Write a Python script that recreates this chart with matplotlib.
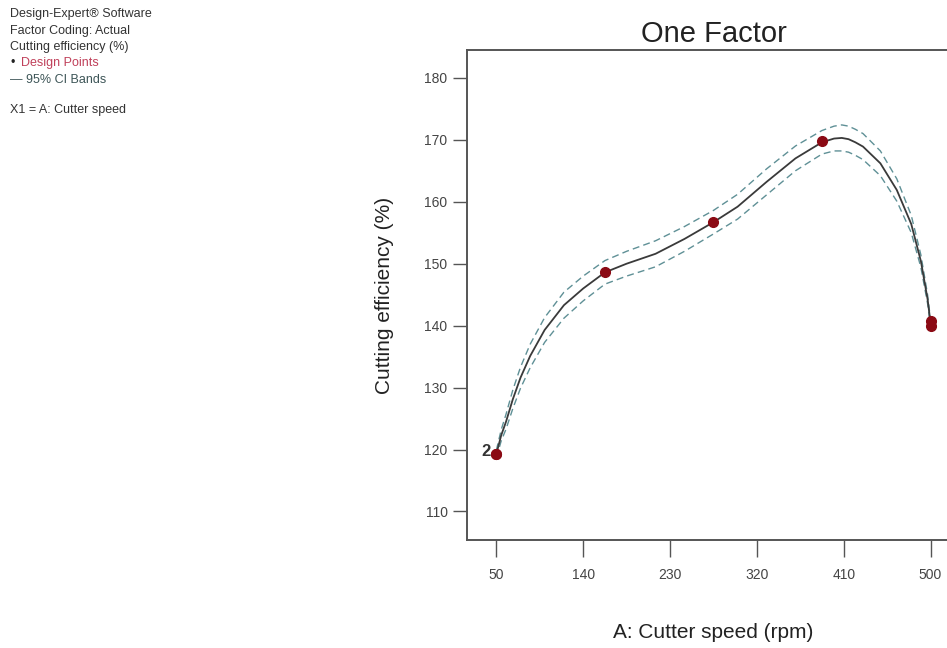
import matplotlib.pyplot as plt

# design points (two runs at 50 rpm overlap)
design_x = [50, 50, 162.5, 275, 387.5, 500, 500]
design_y = [119.3, 119.3, 148.6, 156.7, 169.8, 140.8, 140.0]

# fitted response
speed = [50, 55, 60, 67, 75, 85, 100, 120, 140, 162.5, 185, 215, 245, 275,
         300, 330, 360, 387.5, 400, 408, 415, 422, 430, 448, 465, 480, 490, 497, 500]
fit = [119.3, 122.3, 124.5, 128.1, 131.6, 135.1, 139.3, 143.3, 146.0, 148.6,
       150.0, 151.6, 154.0, 156.7, 159.2, 163.2, 167.0, 169.6, 170.2, 170.3, 170.1,
       169.6, 168.9, 166.2, 161.9, 156.4, 150.4, 144.2, 140.4]
ci_upper = [119.9, 123.2, 125.7, 129.6, 133.3, 137.0, 141.3, 145.4, 148.0, 150.5,
            152.0, 153.7, 156.0, 158.6, 161.2, 165.3, 169.0, 171.5, 172.2, 172.4, 172.2,
            171.7, 171.0, 168.2, 163.7, 157.8, 151.4, 144.9, 140.9]
ci_lower = [118.7, 121.4, 123.3, 126.6, 129.9, 133.2, 137.3, 141.2, 144.0, 146.7,
            148.0, 149.5, 152.0, 154.8, 157.2, 161.1, 165.0, 167.7, 168.2, 168.2, 168.0,
            167.5, 166.8, 164.2, 160.1, 155.0, 149.4, 143.5, 139.9]

xticks = [50, 140, 230, 320, 410, 500]
yticks = [110, 120, 130, 140, 150, 160, 170, 180]

plt.rcParams['font.family'] = ['Liberation Sans', 'DejaVu Sans']

fig = plt.figure(figsize=(9.47, 6.48), dpi=100)
ax = fig.add_axes([0.4931, 0.1667, 0.5206, 0.7562])

ax.plot(speed, ci_upper, color='#5f9096', lw=1.0, dashes=(5, 3))
ax.plot(speed, ci_lower, color='#5f9096', lw=1.0, dashes=(5, 3))
ax.plot(speed, fit, color='#3a3a3a', lw=1.3)
ax.plot(design_x, design_y, 'o', color='#8b0a14', markersize=7, zorder=5)
ax.text(design_x[0] - 6, design_y[0] + 0.4, '2', ha='right', va='center',
        fontsize=12, fontweight='bold', color='#333333')

ax.set_xlim(19.5, 530.5)
ax.set_ylim(105.4, 184.5)
ax.set_xticks(xticks)
ax.set_yticks(yticks)
ax.tick_params(axis='y', direction='out', length=10, width=1, colors='#555555',
               labelcolor='#444444', labelsize=10, pad=4)
ax.tick_params(axis='x', direction='out', length=12, width=1, colors='#555555',
               labelcolor='#444444', labelsize=10, pad=8)
for s in ax.spines.values():
    s.set_color('#555555')
    s.set_linewidth(1.4)

ax.set_title('One Factor', fontsize=21, color='#222222', pad=6)
ax.set_xlabel('A: Cutter speed (rpm)', fontsize=15, color='#222222', labelpad=30)
ax.set_ylabel('Cutting efficiency (%)', fontsize=15, color='#222222', labelpad=22)

# left info block
info = ['Design-Expert\u00ae Software', 'Factor Coding: Actual',
        'Cutting efficiency (%)']
y0 = 0.978
for i, line in enumerate(info):
    fig.text(0.011, y0 - i * 0.0252, line, fontsize=9, color='#333333', va='center')
fig.text(0.011, y0 - 3 * 0.0252, '\u2022', fontsize=9, color='#222222', va='center')
fig.text(0.022, y0 - 3 * 0.0252, 'Design Points', fontsize=9, color='#c0405a', va='center')
fig.text(0.011, y0 - 4 * 0.0252, '\u2014 95% CI Bands', fontsize=9, color='#3d5557', va='center')
fig.text(0.011, y0 - 6 * 0.0252 + 0.004, 'X1 = A: Cutter speed', fontsize=9,
         color='#333333', va='center')

fig.savefig('out.png', dpi=100)
